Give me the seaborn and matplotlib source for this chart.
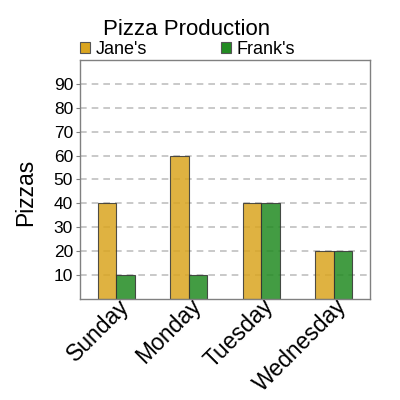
import seaborn as sns
import matplotlib.pyplot as plt
import matplotlib.transforms as mtransforms
import pandas as pd
from matplotlib.patches import Patch

# dados
days = ["Sunday", "Monday", "Tuesday", "Wednesday"]
janes = [40, 60, 40, 20]
franks = [10, 10, 40, 20]
people = ["Jane's", "Frank's"]
yticks = [10, 20, 30, 40, 50, 60, 70, 80, 90]

cores = {"Jane's": "#DAA520", "Frank's": "#228B22"}

df = pd.DataFrame({
    "day": days * 2,
    "pizzas": janes + franks,
    "who": [people[0]] * len(days) + [people[1]] * len(days),
})

sns.set_style("white")
plt.rcParams['font.family'] = ['Liberation Sans', 'DejaVu Sans']
plt.rcParams['text.color'] = 'black'
plt.rcParams['xtick.labelcolor'] = 'black'
plt.rcParams['ytick.labelcolor'] = 'black'

fig = plt.figure(figsize=(4, 4), dpi=100)
ax = fig.add_axes([0.2, 0.2525, 0.725, 0.5975])

sns.barplot(data=df, x="day", y="pizzas", hue="who", palette=cores,
            saturation=1, width=0.51, alpha=0.85, edgecolor="#333333",
            linewidth=0.8, legend=False, ax=ax)

ax.set_ylim(0, 100)
ax.set_xlim(-0.5, 3.5)
ax.set_yticks(yticks)
ax.set_yticklabels([str(v) for v in yticks], fontsize=12.5)
ax.set_xticks(range(len(days)))
ax.set_xticklabels(days, fontsize=16.5, rotation=45, ha="right", va="top",
                   rotation_mode="anchor")
ax.tick_params(axis="both", length=3, color="#808080", direction="out",
               left=True, bottom=False, pad=2)
ax.tick_params(axis="x", pad=1)
# desloca os rotulos do eixo x (um pouco para a direita e para cima)
desloc = mtransforms.ScaledTranslation(1.0 / 100, 10.0 / 100,
                                       fig.dpi_scale_trans)
for lbl in ax.get_xticklabels():
    lbl.set_transform(lbl.get_transform() + desloc)
ax.set_xlabel("")
ax.set_ylabel("")
ax.set_axisbelow(True)
ax.yaxis.grid(True, linestyle=(0, (4, 3)), color="#c0c0c0", linewidth=1.2)
ax.xaxis.grid(False)
for s in ax.spines.values():
    s.set_color("#808080")
    s.set_linewidth(1.0)

# titulo e rotulo do eixo y
fig.text(0.4675, 0.9125, "Pizza Production", fontsize=16, ha="center",
         va="baseline")
fig.text(0.065, 0.52, "Pizzas", fontsize=16.5, rotation=90, ha="center",
         va="center")

# legenda
handles = [Patch(facecolor=cores[p], edgecolor="#555555", linewidth=0.8,
                 label=p) for p in people]
fig.legend(handles=handles, loc="lower left", bbox_to_anchor=(0.2, 0.855),
           ncol=2, frameon=False, fontsize=13, handlelength=0.55,
           handleheight=0.55, handletextpad=0.3, columnspacing=4.1,
           borderpad=0, borderaxespad=0)

fig.savefig("out.png", dpi=100)
